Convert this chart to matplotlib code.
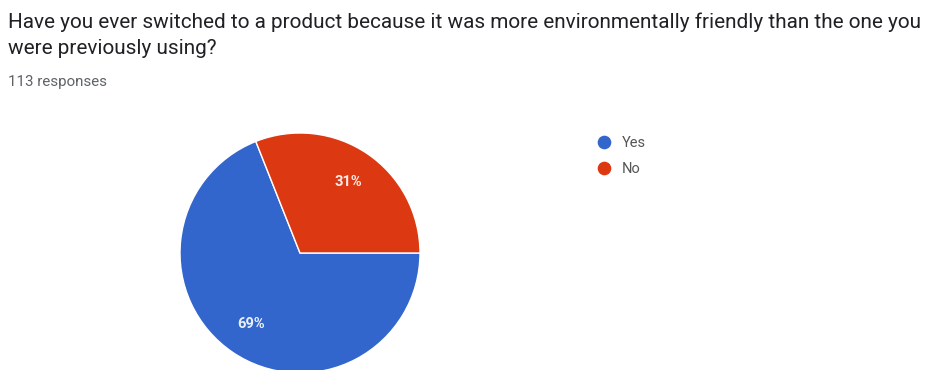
import matplotlib
matplotlib.use("Agg")
import matplotlib.pyplot as plt
from matplotlib.lines import Line2D

# data
labels = ["Yes", "No"]
shares = [69, 31]
colors = ["#3366cc", "#dc3912"]

title_lines = [
    "Have you ever switched to a product because it was more environmentally friendly than the one you",
    "were previously using?",
]
subtitle = "113 responses"

W, H = 929, 370
fig = plt.figure(figsize=(W / 100, H / 100), dpi=100)
fig.patch.set_facecolor("white")
plt.rcParams["font.family"] = ["Roboto", "DejaVu Sans"]


def fy(py):
    # pixel row (from top) -> figure fraction
    return 1 - py / H


# title block, placed by baseline
fig.text(8 / W, fy(28), title_lines[0], fontsize=14.95, color="#202124", va="baseline", ha="left")
fig.text(8 / W, fy(54), title_lines[1], fontsize=14.95, color="#202124", va="baseline", ha="left")
fig.text(8 / W, fy(86), subtitle, fontsize=10.9, color="#5f6368", va="baseline", ha="left")

# pie: center ~ (300, 253), radius ~120 px
cx, cy, r = 300, 253, 120
ax = fig.add_axes([(cx - r) / W, (H - cy - r) / H, 2 * r / W, 2 * r / H])
wedges, _, autotexts = ax.pie(
    shares,
    colors=colors,
    startangle=0,
    counterclock=False,
    autopct="%d%%",
    pctdistance=0.72,
    wedgeprops=dict(edgecolor="white", linewidth=1),
    textprops=dict(color="white", fontsize=10.5, fontweight="bold"),
    radius=1,
)
for w in wedges:
    w.set_clip_on(False)
for t in autotexts:
    t.set_alpha(0.9)
ax.set_xlim(-1, 1)
ax.set_ylim(-1, 1)
ax.set_aspect("equal")
ax.axis("off")

# legend
handles = [
    Line2D([], [], marker="o", linestyle="", markersize=8.8, markerfacecolor=c, markeredgecolor=c)
    for c in colors
]
fig.legend(
    handles,
    labels,
    loc="upper left",
    bbox_to_anchor=(597 / W, fy(136)),
    frameon=False,
    fontsize=10.5,
    labelcolor="#555555",
    handletextpad=0.73,
    labelspacing=0.85,
    handlelength=1.0,
    borderaxespad=0,
    borderpad=0,
)

fig.savefig("out.png", dpi=100, facecolor="white")
